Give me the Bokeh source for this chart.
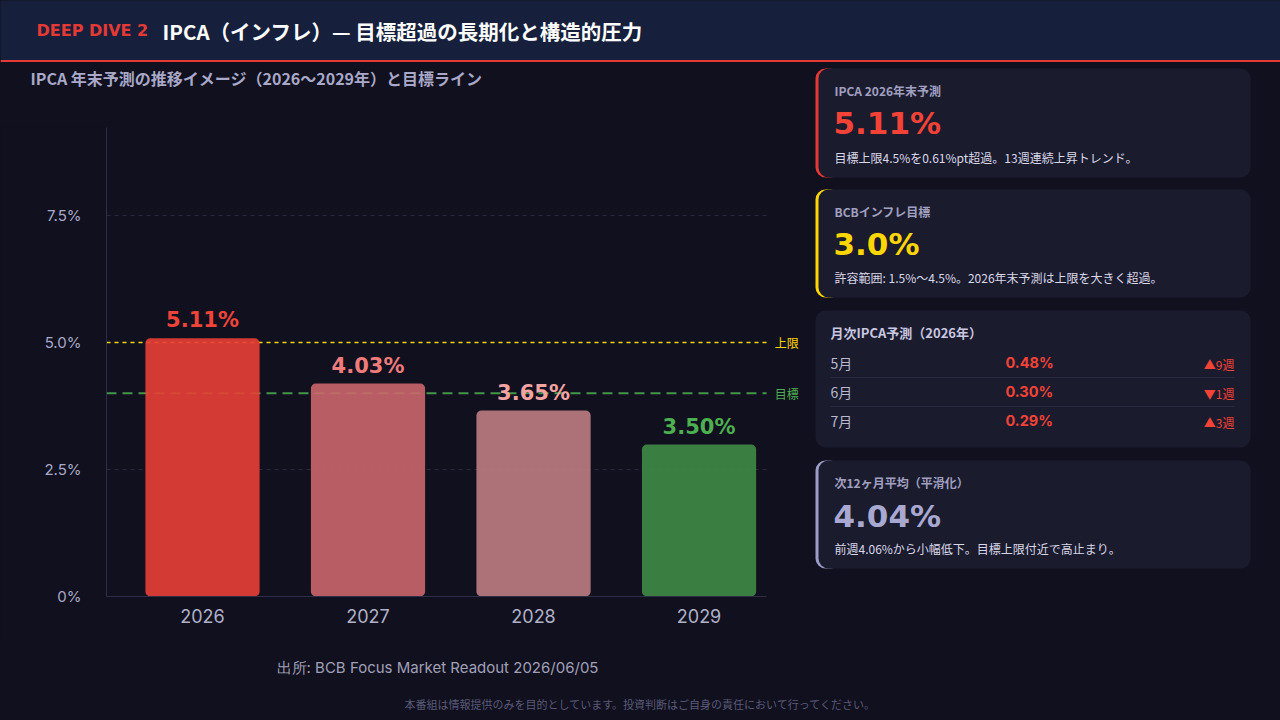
from bokeh.plotting import figure
from bokeh.models import Range1d, FixedTicker
from bokeh.layouts import column, row
from bokeh.core.properties import value
from bokeh.embed import file_html
from bokeh.resources import INLINE

# ---------------- data ----------------
years = ["2026", "2027", "2028", "2029"]
bar_heights = [5.08, 4.19, 3.66, 2.99]          # bar tops as drawn
bar_labels = ["5.11%", "4.03%", "3.65%", "3.50%"]
upper_line = 5.0
target_line = 4.0
y_ticks = [0, 2.5, 5.0, 7.5]
y_tick_labels = ["0%", "2.5%", "5.0%", "7.5%"]

months = ["5月", "6月", "7月"]
month_values = ["0.48%", "0.30%", "0.29%"]
month_changes = ["▲9週", "▼1週", "▲3週"]

title_tag = "DEEP DIVE 2"
title_main = "IPCA（インフレ）— 目標超過の長期化と構造的圧力"
subtitle = "IPCA 年末予測の推移イメージ（2026〜2029年）と目標ライン"
source = "出所: BCB Focus Market Readout 2026/06/05"
disclaimer = "本番組は情報提供のみを目的としています。投資判断はご自身の責任において行ってください。"

cards = [
    ("IPCA 2026年末予測", "5.11%", "目標上限4.5%を0.61%pt超過。13週連続上昇トレンド。"),
    ("BCBインフレ目標", "3.0%", "許容範囲: 1.5%〜4.5%。2026年末予測は上限を大きく超過。"),
    ("次12ヶ月平均（平滑化）", "4.04%", "前週4.06%から小幅低下。目標上限付近で高止まり。"),
]
monthly_title = "月次IPCA予測（2026年）"

# ---------------- style ----------------
BG = "#10101e"
HEADER_BG = "#16203c"
CARD_BG = "#1b1b2e"
RED = "#e53935"
JP = value("Noto Sans CJK JP")
NUM = value("Inter")
HEAVY = value("DejaVu Sans")

bar_colors = ["#e83f35", "#cc666b", "#be7d81", "#3f8b45"]
label_colors = ["#f0443a", "#ef7b7b", "#f4a3a3", "#4caf50"]


def panel(w, h, x0, x1, y0, y1, bg=BG):
    f = figure(width=w, height=h, x_range=Range1d(x0, x1), y_range=Range1d(y1, y0),
               output_backend="svg", toolbar_location=None, min_border=0,
               min_border_left=0, min_border_right=0, min_border_top=0, min_border_bottom=0)
    f.axis.visible = False
    f.grid.visible = False
    f.outline_line_color = None
    f.background_fill_color = bg
    f.border_fill_color = bg
    return f


def txt(f, x, y, t, size, color, bold=False, align="left", font=JP):
    f.text(x=[x], y=[y], text=[t], text_font=font, text_font_size=size,
           text_color=color, text_align=align, text_baseline="middle",
           text_font_style="bold" if bold else "normal")


# ---------------- header ----------------
header = panel(1280, 62, 0, 1280, 0, 62, bg=HEADER_BG)
header.quad(left=[0], right=[1280], top=[59.5], bottom=[62], fill_color=RED, line_color=None)
txt(header, 36, 30, title_tag, "16px", RED, bold=True, font=HEAVY)
txt(header, 162, 30, title_main, "20.5px", "#ffffff", bold=True)

# ---------------- subtitle strip ----------------
sub = panel(800, 65, 0, 800, 62, 127)
txt(sub, 30, 77, subtitle, "16px", "#a8a8c8", bold=True)

# ---------------- chart ----------------
x_pos = list(range(len(years)))
x_lo, x_hi, x_end = -0.58, 3.613, 3.408       # frame edges / end of plotted area
p = figure(width=800, height=513, x_range=Range1d(x_lo, x_hi), y_range=Range1d(0, 9.23),
           output_backend="svg", toolbar_location=None,
           min_border_left=106, min_border_right=0, min_border_top=0, min_border_bottom=44)
p.background_fill_color = BG
p.border_fill_color = BG
p.outline_line_color = None
p.grid.visible = False

# dashed grid
p.segment(x0=[x_lo] * len(y_ticks), x1=[x_end] * len(y_ticks), y0=y_ticks, y1=y_ticks,
          line_color="#2a2a42", line_dash="4 4", line_width=1)
# reference lines (behind the translucent bars)
p.segment(x0=[x_lo], x1=[x_end], y0=[upper_line], y1=[upper_line], line_color="#ffd600",
          line_dash="4 4", line_width=1.5)
p.segment(x0=[x_lo], x1=[x_end], y0=[target_line], y1=[target_line], line_color="#4caf50",
          line_alpha=0.85, line_dash="10 6", line_width=2)

p.vbar(x=x_pos, top=bar_heights, width=0.69, fill_color=bar_colors, fill_alpha=0.9,
       line_color=None, border_radius=5)
p.text(x=x_pos, y=bar_heights, text=bar_labels, text_font=HEAVY, text_font_size="21px",
       text_font_style="bold", text_color=label_colors, text_align="center",
       text_baseline="middle", y_offset=-18)

p.text(x=[x_end + 0.05], y=[upper_line], text=["上限"], text_font=JP, text_font_size="12px",
       text_color="#ffd600", text_baseline="middle")
p.text(x=[x_end + 0.05], y=[target_line], text=["目標"], text_font=JP, text_font_size="12px",
       text_color="#4caf50", text_baseline="middle")

p.yaxis.ticker = FixedTicker(ticks=y_ticks)
p.yaxis.major_label_overrides = {t: l for t, l in zip(y_ticks, y_tick_labels)}
p.yaxis.major_label_text_font = "Inter"
p.yaxis.major_label_text_font_size = "15px"
p.yaxis.major_label_text_color = "#a8a8c8"
p.yaxis.major_label_standoff = 25
p.xaxis.ticker = FixedTicker(ticks=x_pos)
p.xaxis.major_label_overrides = {i: y for i, y in zip(x_pos, years)}
p.xaxis.bounds = (x_lo, x_end)
p.xaxis.major_label_text_font = "Inter"
p.xaxis.major_label_text_font_size = "18px"
p.xaxis.major_label_text_color = "#b0b0c8"
p.xaxis.major_label_standoff = 12
for ax in (p.xaxis, p.yaxis):
    ax.axis_line_color = "#2e2e48"
    ax.major_tick_line_color = None
    ax.minor_tick_line_color = None
    ax.major_tick_out = 0
    ax.major_tick_in = 0
    ax.minor_tick_out = 0
    ax.minor_tick_in = 0

# ---------------- source strip ----------------
src = panel(800, 50, 0, 800, 640, 690)
txt(src, 437, 667, source, "15px", "#a0a0b8", align="center", font=NUM)

# ---------------- cards ----------------
cd = panel(480, 628, 800, 1280, 62, 690)


def card(top, bottom, accent=None):
    if accent:
        cd.quad(left=[815], right=[840], top=[top], bottom=[bottom], fill_color=accent,
                line_color=None, border_radius=10)
        cd.quad(left=[818], right=[1250], top=[top], bottom=[bottom], fill_color=CARD_BG,
                line_color=None, border_radius=10)
    else:
        cd.quad(left=[815], right=[1250], top=[top], bottom=[bottom], fill_color=CARD_BG,
                line_color=None, border_radius=10)


card_boxes = [(68, 177, RED, "#f44336", (90, 122, 157)),
              (189, 297, "#ffd600", "#ffd600", (211, 243, 277)),
              (460, 568, "#9c9cc8", "#a8a8d0", (482, 515, 548))]
for (lab, num, desc), (t, b, acc, numc, ys) in zip(cards, card_boxes):
    card(t, b, acc)
    txt(cd, 834, ys[0], lab, "12px", "#a0a0c0", bold=True)
    txt(cd, 833, ys[1], num, "31px", numc, bold=True, font=HEAVY)
    txt(cd, 834, ys[2], desc, "12px", "#d8d8e8")

card(310, 447)
txt(cd, 830, 332, monthly_title, "13px", "#c8c8e0", bold=True)
row_ys = [362, 391, 420]
for i, (m, v, c) in enumerate(zip(months, month_values, month_changes)):
    y = row_ys[i]
    txt(cd, 830, y, m, "14px", "#b8b8d0")
    txt(cd, 1005, y, v, "14.5px", "#f44336", bold=True, font=NUM)
    txt(cd, 1234, y + 2, c, "12px", "#f44336", align="right")
cd.segment(x0=[830, 830], y0=[377, 406], x1=[1234, 1234], y1=[377, 406],
           line_color="#2a2a42", line_width=1)

# ---------------- footer ----------------
foot = panel(1280, 30, 0, 1280, 690, 720)
txt(foot, 640, 703, disclaimer, "11px", "#5a5a78", align="center")

layout = column(header, row(column(row(sub), p, row(src)), cd), foot,
                styles={"background-color": BG})
TEMPLATE = """{% block preamble %}<style>html, body { background: #10101e; margin: 0; }</style>{% endblock %}"""
open("out.html", "w").write(file_html(layout, INLINE, template=TEMPLATE))
